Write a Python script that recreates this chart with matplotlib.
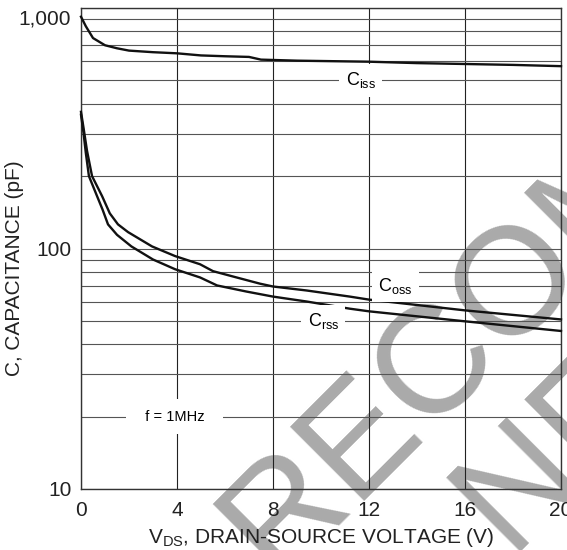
import matplotlib
matplotlib.use("Agg")
import matplotlib.pyplot as plt
import matplotlib.transforms as mtransforms
from matplotlib.ticker import FixedLocator, LogLocator, NullFormatter

plt.rcParams['font.family'] = ['Liberation Sans', 'DejaVu Sans']
plt.rcParams['mathtext.fontset'] = 'custom'
plt.rcParams['mathtext.rm'] = 'Liberation Sans'
plt.rcParams['mathtext.it'] = 'Liberation Sans'

# data (V_DS in volts, capacitance in pF)
ciss_v = [0, 0.2, 0.5, 1, 1.5, 2, 3, 4, 5, 6, 7, 7.5, 9, 12, 14, 16, 18, 20]
ciss_c = [920, 840, 750, 700, 680, 665, 655, 648, 635, 630, 626, 610, 604, 598, 590, 585, 580, 573]

coss_v = [0, 0.1, 0.25, 0.46, 0.88, 1.2, 1.54, 1.96, 2.96, 3.92, 4.96, 5.5,
          6.33, 7.46, 8, 9.4, 11.2, 12, 16, 20]
coss_c = [370, 320, 255, 200, 165, 140, 126, 117, 102, 93, 86, 80.5,
          76.5, 71.4, 69.5, 66.9, 63.1, 61.3, 55.3, 50.7]

crss_v = [0, 0.1, 0.2, 0.33, 0.67, 0.9, 1.125, 1.5, 2.1, 3, 3.92, 4.96,
          5.67, 6.9, 8, 9.4, 11.2, 12, 16, 20]
crss_c = [360, 305, 250, 200, 165, 145, 126, 114, 102, 90, 82, 75.8,
          70.2, 66.2, 63.1, 60.2, 56.2, 54.8, 49.8, 45.4]

x_ticks = [0, 4, 8, 12, 16, 20]
y_ticks = [10, 100, 1000]
y_tick_labels = ['10', '100', '1,000']

W, H = 567, 550
fig = plt.figure(figsize=(W / 100, H / 100), dpi=100)
ax = fig.add_axes([81 / W, 1 - 489 / H, 480 / W, 481 / H])

ax.set_yscale('log')
ax.set_xlim(0, 20)
ax.set_ylim(10, 1000)

ax.xaxis.set_major_locator(FixedLocator(x_ticks))
ax.yaxis.set_major_locator(FixedLocator(y_ticks))
ax.set_yticklabels(y_tick_labels)
ax.yaxis.set_minor_locator(LogLocator(base=10, subs=range(2, 10)))
ax.yaxis.set_minor_formatter(NullFormatter())

ax.tick_params(which='both', length=0, labelsize=15, colors='#222222')
ax.tick_params(axis='x', pad=9)
ax.tick_params(axis='y', pad=7)

ax.grid(True, which='both', axis='y', color='#555555', linewidth=0.8, zorder=0)
ax.grid(True, which='major', axis='x', color='#222222', linewidth=0.8, zorder=0)
for s in ax.spines.values():
    s.set_color('#333333')
    s.set_linewidth(1.0)

# the 1,000 label sits a bit lower than the top border in the original
for lab in ax.get_yticklabels():
    if lab.get_text() == '1,000':
        lab.set_transform(lab.get_transform() +
                          mtransforms.ScaledTranslation(0, -9 / 100, fig.dpi_scale_trans))

# watermark
wm = dict(rotation=45, rotation_mode='anchor', ha='left', va='baseline',
          fontsize=110, color='#aaaaaa', zorder=1.5)
ax.text(275 / W, 1 - 578 / H, 'RECOMMENDED', transform=fig.transFigure,
        clip_on=False, **wm)
ax.text(512 / W, 1 - 560 / H, 'NEW DESIGN', transform=fig.transFigure,
        clip_on=False, **wm)

for v, c in [(ciss_v, ciss_c), (coss_v, coss_c), (crss_v, crss_c)]:
    ax.plot(v, c, color='#111111', linewidth=1.7, zorder=3, clip_on=False)

box = dict(facecolor='white', edgecolor='none', boxstyle='square,pad=0.35')
ax.text(11.65, 500, r'C$_{\mathrm{iss}}$', fontsize=13, ha='center', va='center',
        bbox=box, zorder=4)
ax.text(13.1, 70, r'C$_{\mathrm{oss}}$', fontsize=13, ha='center', va='center',
        bbox=box, zorder=4)
ax.text(10.1, 50, r'C$_{\mathrm{rss}}$', fontsize=13, ha='center', va='center',
        bbox=box, zorder=4)
ax.text(3.9, 20, '  f = 1MHz  ', fontsize=10.5, ha='center', va='center',
        bbox=dict(facecolor='white', edgecolor='none', boxstyle='square,pad=0.7'),
        zorder=4)

ax.set_xlabel(r'V$_{\mathrm{DS}}$, DRAIN-SOURCE VOLTAGE (V)', fontsize=15,
              color='#222222', labelpad=4)
ax.set_ylabel('C, CAPACITANCE (pF)', fontsize=15, color='#222222')
ax.yaxis.set_label_coords(-0.118, 0.46)

fig.savefig('out.png', dpi=100)
